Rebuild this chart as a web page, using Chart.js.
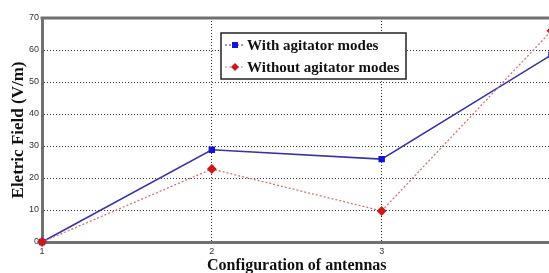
<!DOCTYPE html>
<html>
<head>
<meta charset="utf-8">
<script src="https://cdn.jsdelivr.net/npm/chart.js@4"></script>
<style>
  html, body { margin: 0; padding: 0; background: #fff; overflow: hidden; }
  #wrap { width: 558px; height: 273px; }
</style>
</head>
<body>
<div id="wrap"><canvas id="mycanvas"></canvas></div>
<script>
var configs = ['1', '2', '3', '4'];
var withAgitator = [0, 28.8, 25.9, 58.5];
var withoutAgitator = [0, 22.8, 9.7, 66];
var yTicks = [0, 10, 20, 30, 40, 50, 60, 70];

// legend box and top frame line
var frameAndLegend = {
  id: 'frameAndLegend',
  afterDraw: function(chart) {
    var ctx = chart.ctx, a = chart.chartArea;
    ctx.save();
    ctx.strokeStyle = '#707070';
    ctx.lineWidth = 3;
    ctx.beginPath();
    ctx.moveTo(a.left - 1.5, a.top);
    ctx.lineTo(a.right, a.top);
    ctx.stroke();

    var bx = 221, by = 33, bw = 185, bh = 46;
    ctx.fillStyle = '#fff';
    ctx.fillRect(bx, by, bw, bh);
    ctx.strokeStyle = '#222';
    ctx.lineWidth = 1.5;
    ctx.strokeRect(bx, by, bw, bh);

    var rows = [by + 12, by + 34];
    chart.data.datasets.forEach(function(ds, i) {
      var y = rows[i];
      ctx.strokeStyle = ds.borderColor;
      ctx.lineWidth = 1.2;
      ctx.setLineDash([2, 2]);
      ctx.beginPath();
      ctx.moveTo(bx + 4, y);
      ctx.lineTo(bx + 24, y);
      ctx.stroke();
      ctx.setLineDash([]);
      ctx.fillStyle = ds.pointBackgroundColor;
      ctx.beginPath();
      if (ds.pointStyle === 'rect') {
        ctx.rect(bx + 11, y - 3, 6, 6);
      } else {
        ctx.moveTo(bx + 14, y - 4);
        ctx.lineTo(bx + 18, y);
        ctx.lineTo(bx + 14, y + 4);
        ctx.lineTo(bx + 10, y);
        ctx.closePath();
      }
      ctx.fill();
      ctx.fillStyle = '#111';
      ctx.font = 'bold 15px "Liberation Serif", "DejaVu Serif", serif';
      ctx.textBaseline = 'middle';
      ctx.fillText(ds.label, bx + 26, y + 1);
    });
    ctx.restore();
  }
};

var ctx = document.getElementById('mycanvas');
var chart = new Chart(ctx, {
  type: 'line',
  data: {
    labels: configs,
    datasets: [
      {
        label: 'With agitator modes',
        data: withAgitator,
        order: 1,
        borderColor: '#3535a8',
        borderWidth: 1.5,
        pointStyle: 'rect',
        pointRadius: 3.5,
        pointBackgroundColor: '#1414d0',
        pointBorderColor: '#1414d0',
        tension: 0,
        clip: false
      },
      {
        label: 'Without agitator modes',
        data: withoutAgitator,
        order: 0,
        borderColor: '#d87070',
        borderWidth: 1.3,
        borderDash: [2, 2],
        pointStyle: 'rectRot',
        pointRadius: 4,
        pointBackgroundColor: '#d01818',
        pointBorderColor: '#d01818',
        tension: 0,
        clip: false
      }
    ]
  },
  options: {
    responsive: true,
    maintainAspectRatio: false,
    animation: false,
    layout: { padding: { top: 18, right: 0, left: 0, bottom: 0 } },
    plugins: {
      legend: { display: false },
      tooltip: { enabled: false }
    },
    scales: {
      x: {
        type: 'category',
        offset: false,
        afterFit: function(s) { s.height = 31; },
        grid: { color: '#333', lineWidth: 1, drawTicks: false },
        border: { color: '#707070', width: 3, dash: [1, 2] },
        ticks: {
          color: '#333',
          padding: 4,
          maxRotation: 0,
          font: { family: 'Arial, "Liberation Sans", sans-serif', size: 9 }
        },
        title: {
          display: true,
          text: 'Configuration of antennas',
          color: '#111',
          padding: { top: 0, bottom: -1 },
          font: { family: '"Liberation Serif", "DejaVu Serif", serif', size: 16, weight: 'bold', lineHeight: 1 }
        }
      },
      y: {
        min: 0,
        max: 70,
        afterFit: function(s) { s.width = 42; },
        afterBuildTicks: function(s) { s.ticks = yTicks.map(function(v) { return { value: v }; }); },
        grid: { color: '#333', lineWidth: 1, drawTicks: false },
        border: { color: '#707070', width: 3, dash: [1, 2] },
        ticks: {
          color: '#333',
          padding: 3,
          font: { family: 'Arial, "Liberation Sans", sans-serif', size: 9 }
        },
        title: {
          display: true,
          text: 'Eletric Field (V/m)',
          color: '#111',
          padding: { top: 10, bottom: 0 },
          font: { family: '"Liberation Serif", "DejaVu Serif", serif', size: 17, weight: 'bold', lineHeight: 1 }
        }
      }
    }
  },
  plugins: [frameAndLegend]
});
</script>
</body>
</html>
